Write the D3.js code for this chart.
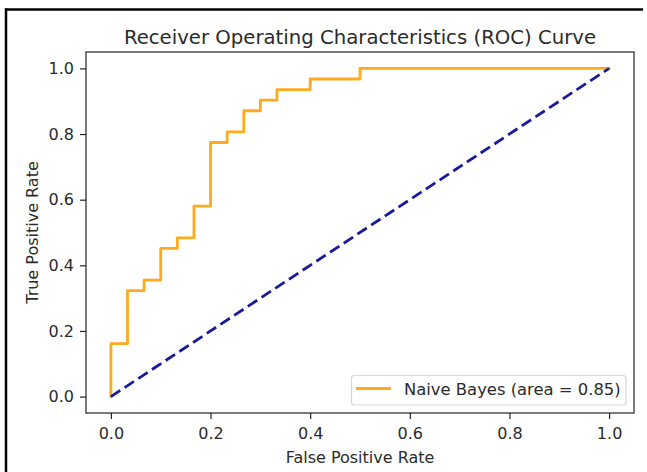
<!DOCTYPE html>
<html>
<head>
<meta charset="utf-8">
<script src="https://cdn.jsdelivr.net/npm/d3@7"></script>
<style>
  html, body { margin: 0; padding: 0; background: #fff; }
  svg { display: block; }
  text { font-family: "DejaVu Sans", sans-serif; }
</style>
</head>
<body>
<svg id="chart" width="647" height="472"></svg>
<script>
// ---- data ----
const fpr = [0, 0, 0.0333, 0.0333, 0.0667, 0.0667, 0.1, 0.1, 0.1333, 0.1333, 0.1667, 0.1667,
             0.2, 0.2, 0.2333, 0.2333, 0.2667, 0.2667, 0.3, 0.3, 0.3333, 0.3333, 0.4, 0.4,
             0.5, 0.5, 1.0];
const tpr = [0, 0.1613, 0.1613, 0.3226, 0.3226, 0.3548, 0.3548, 0.4516, 0.4516, 0.4839, 0.4839, 0.5806,
             0.5806, 0.7742, 0.7742, 0.8065, 0.8065, 0.8710, 0.8710, 0.9032, 0.9032, 0.9355, 0.9355, 0.9677,
             0.9677, 1.0, 1.0];
const chanceX = [0, 1];
const chanceY = [0, 1];
const modelName = "Naive Bayes";
const aucValue = 0.85;
const xTicks = [0.0, 0.2, 0.4, 0.6, 0.8, 1.0];
const yTicks = [0.0, 0.2, 0.4, 0.6, 0.8, 1.0];
const titleText = "Receiver Operating Characteristics (ROC) Curve";
const xLabel = "False Positive Rate";
const yLabel = "True Positive Rate";

// ---- layout ----
const svg = d3.select("#chart");
const L = 86, R = 634, T = 52, B = 413;
const x = d3.scaleLinear().domain([-0.05, 1.05]).range([L, R]);
const y = d3.scaleLinear().domain([-0.05, 1.05]).range([B, T]);
const textColor = "#2b2b2b";

// outer screenshot frame (top + left edges)
svg.append("line").attr("x1", 5).attr("x2", 643).attr("y1", 9.5).attr("y2", 9.5)
  .attr("stroke", "#000").attr("stroke-width", 2.5);
svg.append("line").attr("x1", 6).attr("x2", 6).attr("y1", 8.3).attr("y2", 472)
  .attr("stroke", "#000").attr("stroke-width", 2.5);

// ROC curve
const rocPts = fpr.map((f, i) => [f, tpr[i]]);
const line = d3.line().x(d => x(d[0])).y(d => y(d[1]));
svg.append("path").datum(rocPts).attr("d", line)
  .attr("fill", "none").attr("stroke", "#ffaa1c").attr("stroke-width", 2.8)
  .attr("stroke-linejoin", "round").attr("stroke-linecap", "square");

// chance diagonal
const diagPts = chanceX.map((f, i) => [f, chanceY[i]]);
svg.append("path").datum(diagPts).attr("d", line)
  .attr("fill", "none").attr("stroke", "#1a1a99").attr("stroke-width", 2.8)
  .attr("stroke-dasharray", "11.2,5.2").attr("stroke-linecap", "butt");

// axes
const fmt = d3.format(".1f");
const gx = svg.append("g").attr("transform", `translate(0,${B})`)
  .call(d3.axisBottom(x).tickValues(xTicks).tickFormat(fmt).tickSize(6).tickPadding(8.4).tickSizeOuter(0));
const gy = svg.append("g").attr("transform", `translate(${L},0)`)
  .call(d3.axisLeft(y).tickValues(yTicks).tickFormat(fmt).tickSize(6).tickPadding(6).tickSizeOuter(0));
[gx, gy].forEach(g => {
  g.select(".domain").remove();
  g.selectAll(".tick line").attr("stroke", "#222").attr("stroke-width", 1.2);
  g.selectAll(".tick text").attr("fill", textColor).style("font-size", "16px")
    .style("font-family", "'DejaVu Sans', sans-serif");
});

// spines
svg.append("rect").attr("x", L).attr("y", T).attr("width", R - L).attr("height", B - T)
  .attr("fill", "none").attr("stroke", "#222").attr("stroke-width", 1.2);

// title & labels
svg.append("text").attr("x", (L + R) / 2).attr("y", 44).attr("text-anchor", "middle")
  .style("font-size", "19.7px").attr("fill", textColor).text(titleText);
svg.append("text").attr("x", (L + R) / 2).attr("y", 463).attr("text-anchor", "middle")
  .style("font-size", "16px").attr("fill", textColor).text(xLabel);
svg.append("text").attr("transform", `translate(38,${(T + B) / 2}) rotate(-90)`)
  .attr("text-anchor", "middle").style("font-size", "16px").attr("fill", textColor).text(yLabel);

// legend
const lg = svg.append("g");
lg.append("rect").attr("x", 351.5).attr("y", 375.5).attr("width", 274.5).attr("height", 29.5)
  .attr("rx", 3).attr("fill", "#fff").attr("fill-opacity", 0.8)
  .attr("stroke", "#d6d6d6").attr("stroke-width", 1.2);
lg.append("line").attr("x1", 356).attr("x2", 391).attr("y1", 388.5).attr("y2", 388.5)
  .attr("stroke", "#ffaa1c").attr("stroke-width", 2.8);
lg.append("text").attr("x", 404).attr("y", 395.3).style("font-size", "16.4px").attr("fill", textColor)
  .text(`${modelName} (area = ${aucValue.toFixed(2)})`);
</script>
</body>
</html>
